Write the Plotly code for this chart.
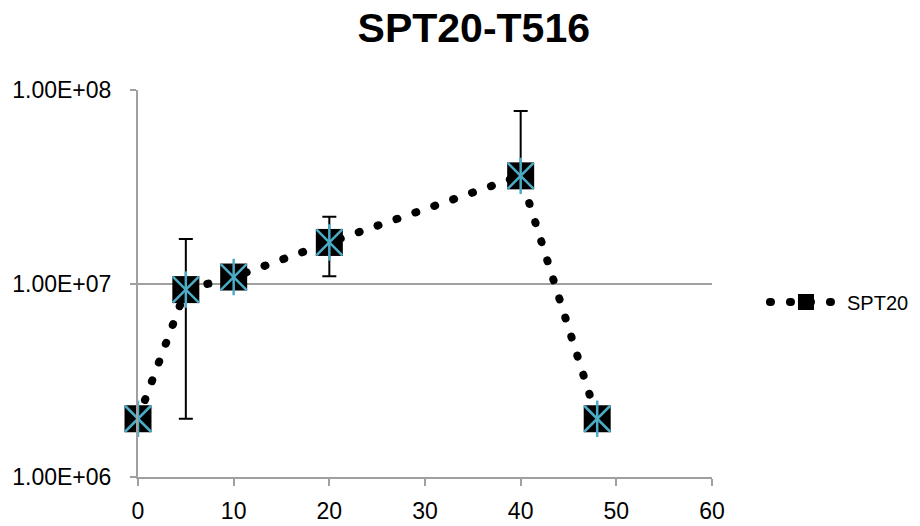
import plotly.graph_objects as go

time_points = [0, 5, 10, 20, 40, 48]
spt20_values = [2.0e6, 9.3e6, 1.08e7, 1.63e7, 3.6e7, 2.0e6]
err_plus = [0, 7.7e6, 0, 5.8e6, 4.2e7, 0]
err_minus = [0, 7.3e6, 0, 5.4e6, 0, 0]
series_name = "SPT20"
title_text = "SPT20-T516"
y_tick_vals = [1e6, 1e7, 1e8]
y_tick_text = ["1.00E+06", "1.00E+07", "1.00E+08"]

CYAN = "#4BACC6"

fig = go.Figure()

fig.add_trace(go.Scatter(
    x=time_points, y=spt20_values, name=series_name, mode="lines+markers",
    line=dict(color="black", width=8, dash="1px,19px"),
    marker=dict(symbol="square", size=27, color="black",
                line=dict(color="black", width=0)),
    error_y=dict(type="data", symmetric=False, array=err_plus,
                 arrayminus=err_minus, color="black", thickness=2, width=7),
    cliponaxis=False,
))
fig.add_trace(go.Scatter(
    x=time_points, y=spt20_values, mode="markers", showlegend=False,
    marker=dict(symbol="x-thin-open", size=26, color=CYAN, line=dict(color=CYAN, width=2.5)),
    hoverinfo="skip", cliponaxis=False,
))
fig.add_trace(go.Scatter(
    x=time_points, y=spt20_values, mode="markers", showlegend=False,
    marker=dict(symbol="line-ns-open", size=26, color=CYAN, line=dict(color=CYAN, width=2.5)),
    hoverinfo="skip", cliponaxis=False,
))

fig.update_layout(
    width=920, height=526,
    paper_bgcolor="white", plot_bgcolor="white",
    margin=dict(l=138, r=208, t=90, b=49),
    font=dict(family="Liberation Sans, Arial, sans-serif", size=23, color="black"),
    title=dict(text="<b>" + title_text + "</b>", x=0.515, xanchor="center",
               y=0.947, yanchor="middle", font=dict(size=41)),
    legend=dict(xref="container", x=0.8315, y=0.452, xanchor="left", yanchor="middle",
                itemwidth=72, font=dict(size=20), bgcolor="rgba(0,0,0,0)"),
    showlegend=True,
)
fig.update_xaxes(range=[0, 60], dtick=10, tick0=0, showgrid=False, zeroline=False,
                 showline=True, linecolor="#a0a0a0", linewidth=2,
                 ticks="outside", ticklen=7, tickcolor="#a0a0a0", tickwidth=2,
                 ticklabelstandoff=5, automargin=False)
fig.update_yaxes(type="log", range=[6, 8], tickvals=y_tick_vals, ticktext=y_tick_text,
                 showgrid=True, gridcolor="#a0a0a0", gridwidth=2, zeroline=False,
                 showline=True, linecolor="#a0a0a0", linewidth=2,
                 ticks="outside", ticklen=6, tickcolor="#a0a0a0", tickwidth=2,
                 ticklabelstandoff=14, automargin=False)

post_js = """
document.body.style.margin = '0';
var gd = document.getElementById('{plot_id}');
gd.querySelectorAll('path.js-line').forEach(function(p){
    p.style.strokeLinecap = 'round';
});
"""
fig.write_html("out.html", post_script=post_js, config={"displayModeBar": False})
